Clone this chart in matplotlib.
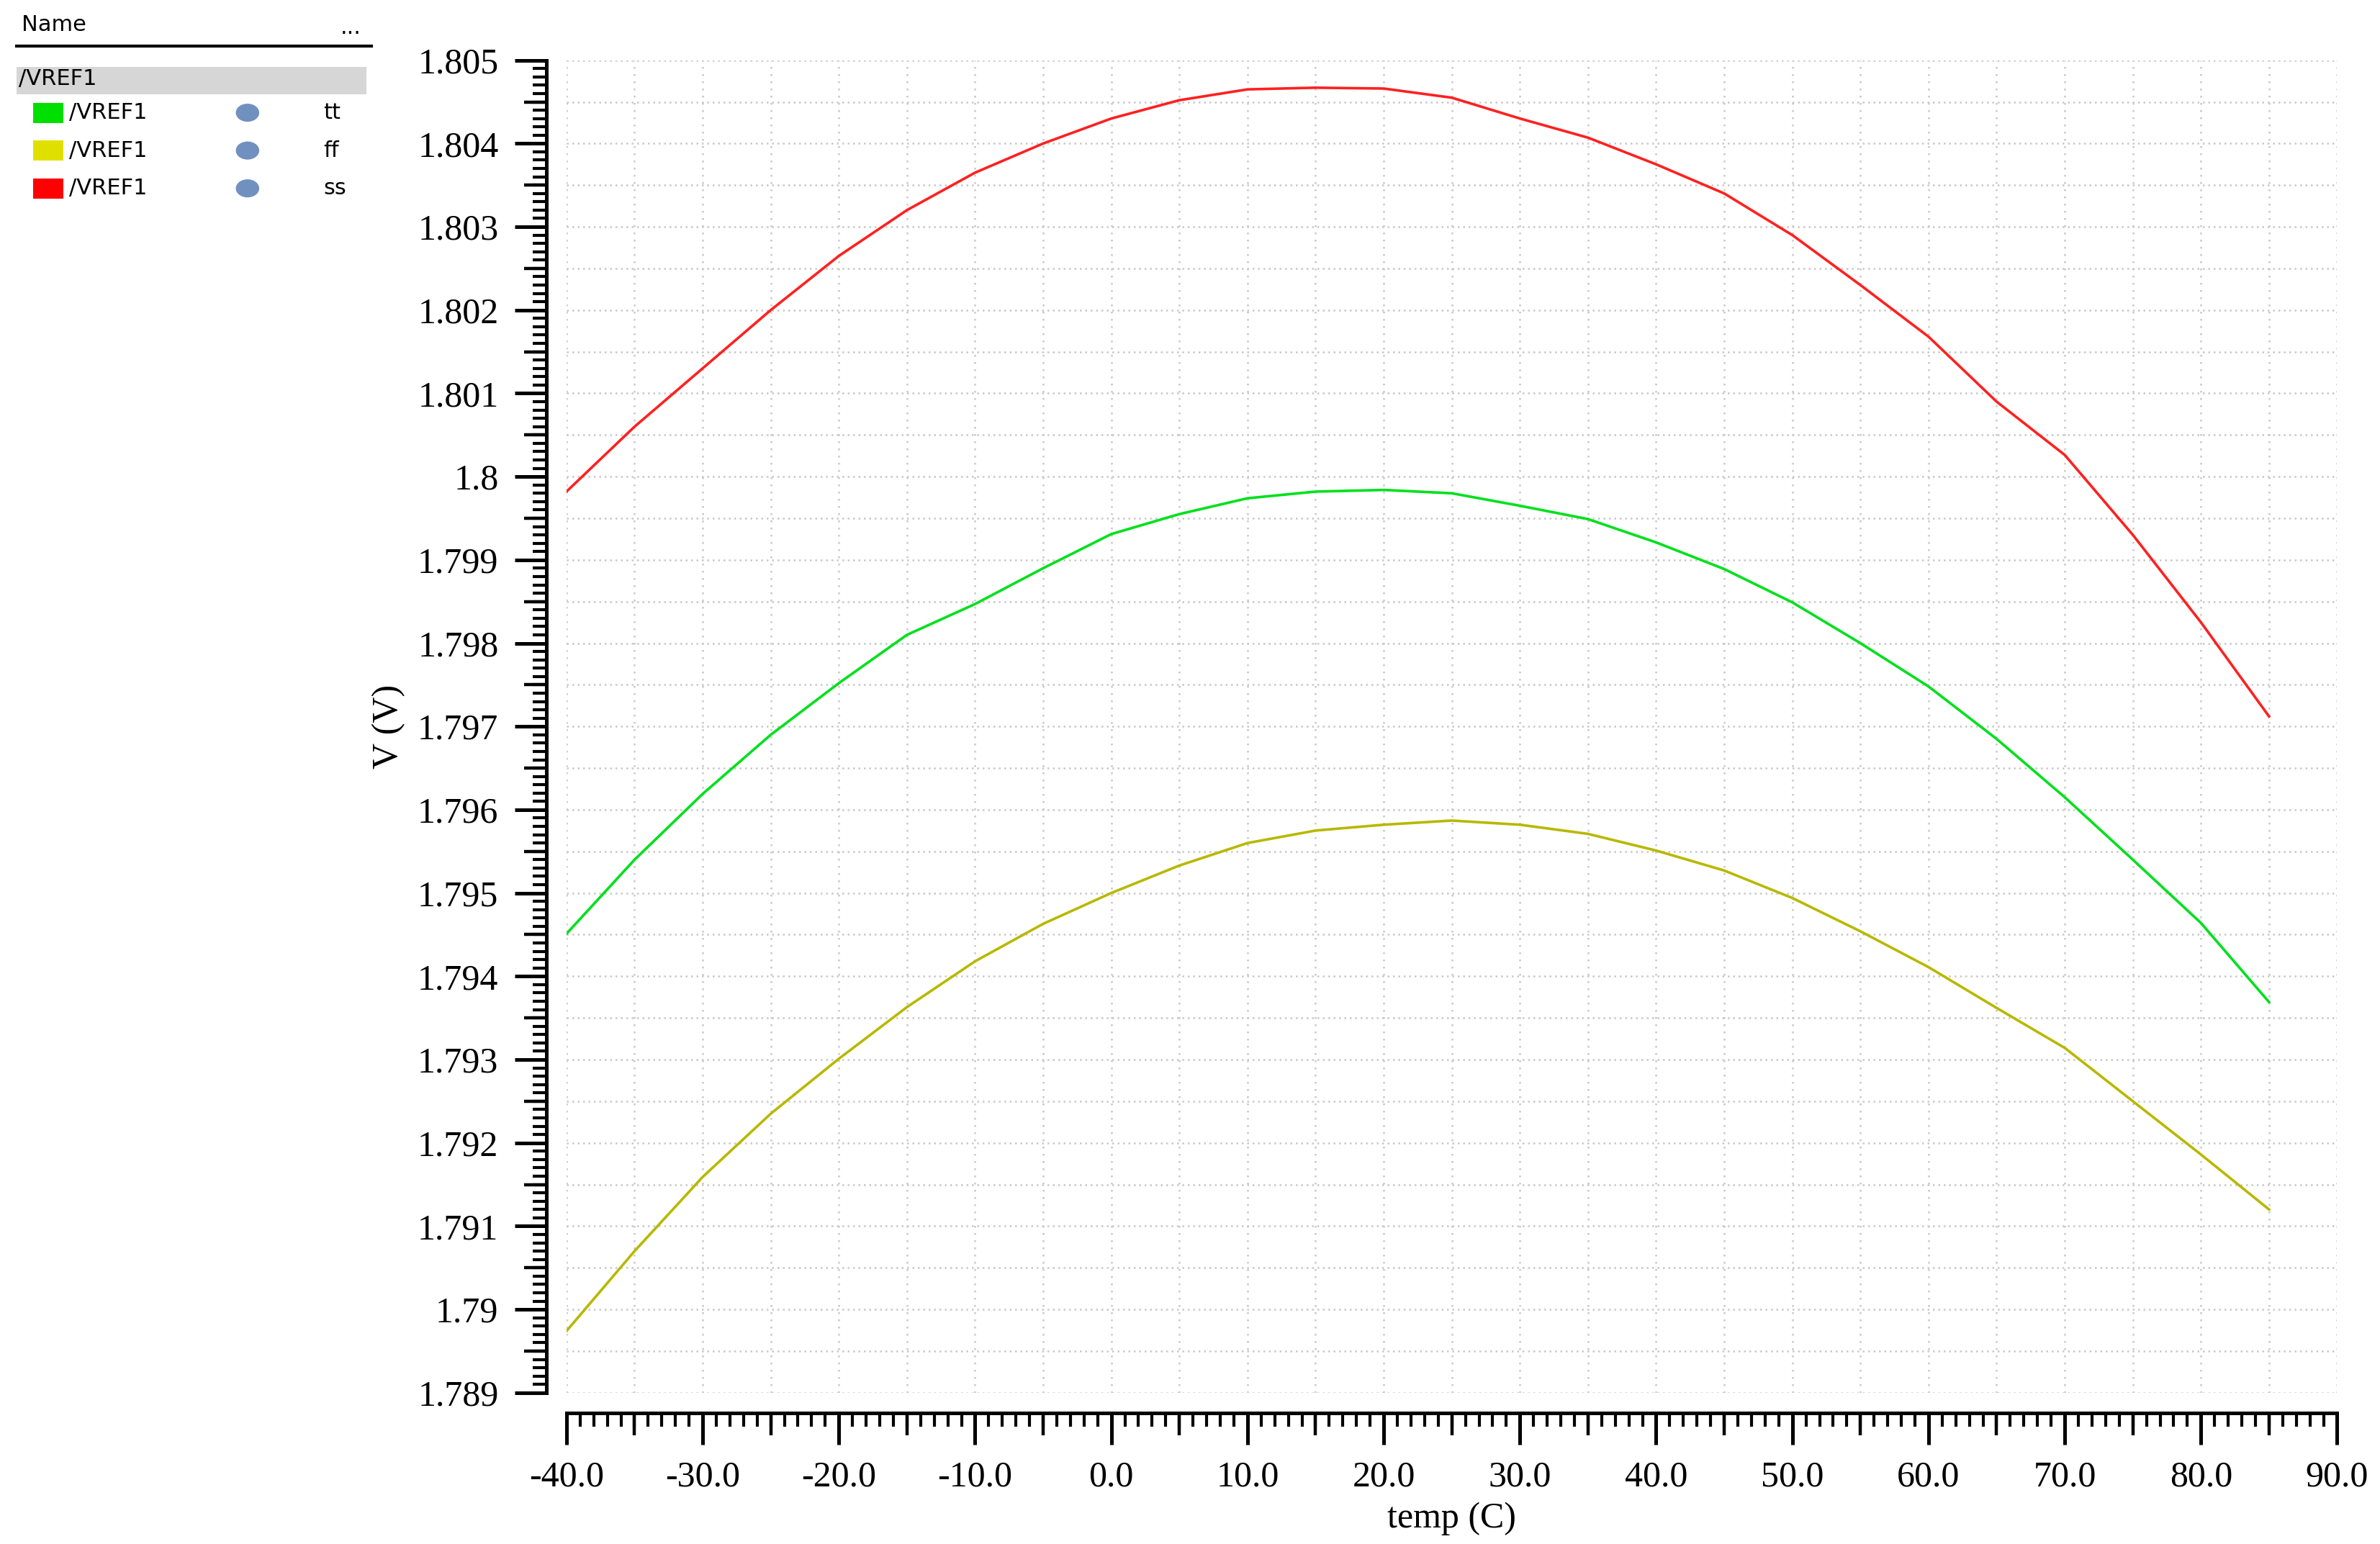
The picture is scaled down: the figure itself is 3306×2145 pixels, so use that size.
import matplotlib
matplotlib.use("Agg")
import matplotlib.pyplot as plt
from matplotlib.ticker import MultipleLocator, FormatStrFormatter, NullFormatter
from matplotlib.patches import Rectangle, Ellipse

temp = [-40, -35, -30, -25, -20, -15, -10, -5, 0, 5, 10, 15, 20, 25, 30, 35, 40, 45, 50, 55, 60, 65, 70, 75, 80, 85]
vref_ss = [1.79982, 1.8006, 1.8013, 1.8020, 1.80265, 1.8032, 1.80365, 1.8040, 1.8043, 1.80452, 1.80465,
           1.80467, 1.80466, 1.80455, 1.8043, 1.80407, 1.80375, 1.8034, 1.8029, 1.8023, 1.80168, 1.8009,
           1.80026, 1.7993, 1.79825, 1.79712]
vref_tt = [1.79451, 1.79540, 1.79619, 1.79690, 1.79752, 1.79810, 1.79847, 1.79890, 1.79931, 1.79955, 1.79974,
           1.79982, 1.79984, 1.79980, 1.79965, 1.79949, 1.79921, 1.79889, 1.79849, 1.79800, 1.79748, 1.79685,
           1.79615, 1.79540, 1.79464, 1.79369]
vref_ff = [1.78974, 1.79070, 1.79159, 1.79235, 1.79301, 1.79363, 1.79418, 1.79463, 1.79500, 1.79533, 1.79560,
           1.79575, 1.79582, 1.79587, 1.79582, 1.79571, 1.79551, 1.79527, 1.79494, 1.79454, 1.79411, 1.79362,
           1.79314, 1.79250, 1.79186, 1.79120]

series = [("tt", vref_tt, "#00e01c"), ("ff", vref_ff, "#b8b800"), ("ss", vref_ss, "#ff2020")]
legend_colors = {"tt": "#00e000", "ff": "#e0e000", "ss": "#ff0000"}

fig = plt.figure(figsize=(16.53, 10.725), dpi=200)
ax = fig.add_axes([0.238, 0.098, 0.744, 0.863])
for name, vals, col in series:
    ax.plot(temp, vals, color=col, lw=1.3)

ax.set_xlim(-40, 90)
ax.set_ylim(1.789, 1.805)
ax.xaxis.set_major_locator(MultipleLocator(10))
ax.xaxis.set_minor_locator(MultipleLocator(1))
ax.yaxis.set_major_locator(MultipleLocator(0.001))
ax.yaxis.set_minor_locator(MultipleLocator(0.0001))
ax.xaxis.set_major_formatter(FormatStrFormatter("%.1f"))
ax.yaxis.set_major_formatter(plt.FuncFormatter(lambda v, p: f"{v:.3f}".rstrip("0").rstrip(".")))

for s in ["top", "right"]:
    ax.spines[s].set_visible(False)
ax.spines["left"].set_position(("outward", 10))
ax.spines["bottom"].set_position(("outward", 10))
for s in ["left", "bottom"]:
    ax.spines[s].set_linewidth(1.8)

ax.tick_params(which="major", length=16, width=1.8, labelsize=18, pad=8)
ax.tick_params(which="minor", length=7, width=1.5)
for lab in ax.get_xticklabels() + ax.get_yticklabels():
    lab.set_family("Liberation Serif")

# medium ticks at half-majors
secx = ax.secondary_xaxis("bottom")
secx.spines["bottom"].set_position(("outward", 10))
secx.spines["bottom"].set_visible(False)
secx.set_xticks(list(range(-35, 90, 10)))
secx.xaxis.set_major_formatter(NullFormatter())
secx.tick_params(length=11, width=1.6)
secy = ax.secondary_yaxis("left")
secy.spines["left"].set_position(("outward", 10))
secy.spines["left"].set_visible(False)
secy.set_yticks([1.7895 + 0.001 * i for i in range(16)])
secy.yaxis.set_major_formatter(NullFormatter())
secy.tick_params(length=11, width=1.6)

for x in range(-40, 91, 5):
    ax.axvline(x, color="#c8c8c8", lw=0.9, ls=(0, (1, 3)), zorder=0)
yv = 1.789
while yv <= 1.80501:
    ax.axhline(yv, color="#c8c8c8", lw=0.9, ls=(0, (1, 2)), zorder=0)
    yv += 0.0005

ax.set_xlabel("temp (C)", family="Liberation Serif", fontsize=18, labelpad=4)
ax.set_ylabel("V (V)", family="Liberation Serif", fontsize=18, labelpad=6)

# legend panel on the left
fig.text(0.009, 0.984, "Name", fontsize=11, va="center")
fig.text(0.143, 0.982, "...", fontsize=11, va="center")
fig.add_artist(plt.Line2D([0.007, 0.156], [0.970, 0.970], color="black", lw=1.5))
fig.add_artist(Rectangle((0.007, 0.939), 0.147, 0.0175, color="#d6d6d6", lw=0))
fig.text(0.008, 0.949, "/VREF1", fontsize=11, va="center")
for i, (name, vals, col) in enumerate(series):
    y = 0.927 - i * 0.0245
    fig.add_artist(Rectangle((0.014, y - 0.0065), 0.0125, 0.013, color=legend_colors[name], lw=0))
    fig.text(0.029, y, "/VREF1", fontsize=11, va="center")
    fig.add_artist(Ellipse((0.104, y), 0.009, 0.009 * 16.53 / 10.725 * 0.75, color="#7090c0",
                           transform=fig.transFigure))
    fig.text(0.136, y, name, fontsize=11, va="center")

fig.savefig("out.png", dpi=200)
